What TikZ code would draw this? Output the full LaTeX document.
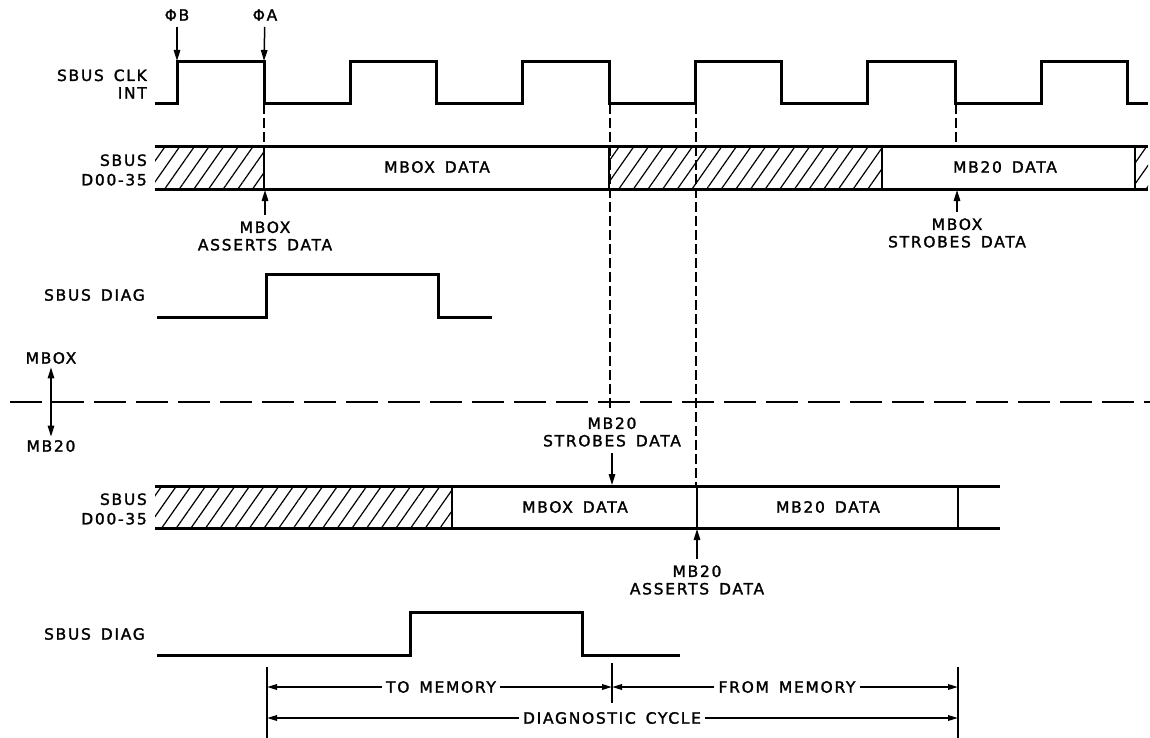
\documentclass[tikz,border=0pt]{standalone}
\usepackage{fontspec}
\newfontfamily\leroy{DejaVu Sans}[LetterSpace=11, WordSpace=1.5, FakeBold=1.6]
\usepackage{tikz}
\usetikzlibrary{positioning,arrows.meta,patterns.meta}

\begin{document}
\begin{tikzpicture}[
  x=1pt, y=-1pt,
  font=\leroy\fontsize{15.5}{17.5}\selectfont,
  wave/.style={line width=3pt},
  bus_edge/.style={line width=3pt},
  bus_cut/.style={line width=1.4pt},
  hatch/.style={pattern={Lines[angle=55,distance=12pt,line width=1.2pt]}},
  guide/.style={line width=1.4pt, dash pattern=on 10pt off 4pt},
  split/.style={line width=2.4pt, dash pattern=on 32pt off 10pt},
  ptr/.style={-{Triangle[length=11pt,width=6.5pt]}, line width=1.5pt, shorten <=6pt},
  dbl_ptr/.style={{Triangle[length=11pt,width=6.5pt]}-{Triangle[length=11pt,width=6.5pt]}, line width=1.5pt},
  dim/.style={-{Triangle[length=10pt,width=5.5pt]}, line width=1.8pt},
  note/.style={align=center, inner sep=0pt},
  sig_name/.style={anchor=east, align=right, inner sep=0pt}
]
\useasboundingbox (0,0) rectangle (1150,738);

% --- SBUS CLK INT, with phase markers ---
\node[sig_name] (clk_lbl) at (147,84) {SBUS CLK\\INT};
\draw[wave] (155,104) -| (177,62) -| (264,104) -| (350,62) -| (436,104) -| (522,62)
  -| (609,104) -| (695,62) -| (781,104) -| (867,62) -| (955,104) -| (1041,62)
  -| (1127,104) -- (1148,104);
\node[note] (phiB) at (177,15) {ΦB};
\node[note] (phiA) at (265,15) {ΦA};
\coordinate (edgeB) at (177,61);
\coordinate (edgeA) at (264,61);
\draw[ptr] (phiB) -- (edgeB);
\draw[ptr] (phiA) -- (edgeA);

% --- timing guides (dashed) ---
\coordinate (gA_top) at (264,104);  \coordinate (gA_bot) at (264,147);
\coordinate (gS_top) at (610,104);  \coordinate (gS_bot) at (610,408);
\coordinate (gR_top) at (696,104);  \coordinate (gR_bot) at (696,486);
\coordinate (gT_top) at (956,104);  \coordinate (gT_bot) at (956,147);
\draw[guide] (gA_top) -- (gA_bot);
\draw[guide] (gS_top) -- (gS_bot);
\draw[guide] (gR_top) -- (gR_bot);
\draw[guide] (gT_top) -- (gT_bot);

% --- SBUS D00-35 (MBOX side) ---
\node[sig_name] (bus1_lbl) at (147,170) {SBUS\\[2pt]D00-35};
\fill[hatch] (155,147) rectangle (264,189);
\fill[hatch] (609,147) rectangle (882,189);
\fill[hatch] (1135,147) rectangle (1148,189);
\draw[bus_edge] (155,147) -- (1148,147) (155,189) -- (1148,189);
\foreach \x in {264,609,882,1135}
  \draw[bus_cut] (\x,147) -- (\x,189);
\node (bus1_mbox) at (437,167) {MBOX DATA};
\node (bus1_mb20) at (1005,167) {MB20 DATA};

\node[note] (mbox_asrt) at (265,236) {MBOX\\ASSERTS DATA};
\coordinate (bus1_atA) at (265,190);
\draw[ptr] (mbox_asrt) -- (bus1_atA);
\node[note] (mbox_strb) at (957,233) {MBOX\\STROBES DATA};
\coordinate (bus1_atS) at (957,190);
\draw[ptr] (mbox_strb) -- (bus1_atS);

% --- SBUS DIAG (MBOX side) ---
\node[sig_name] (diag1_lbl) at (145,295) {SBUS DIAG};
\draw[wave] (157,317) -| (266,274) -| (438,317) -- (492,317);

% --- MBOX / MB20 split ---
\draw[split] (10,402) -- (1150,402);
\node (side_mbox) at (51,358) {MBOX};
\node (side_mb20) at (51,446) {MB20};
\draw[dbl_ptr] (side_mbox) -- (side_mb20);

% --- SBUS D00-35 (MB20 side) ---
\node[note] (mb20_strb) at (612,432) {MB20\\STROBES DATA};
\coordinate (bus2_atS) at (612,485);
\draw[ptr] (mb20_strb) -- (bus2_atS);

\node[sig_name] (bus2_lbl) at (147,509) {SBUS\\[2pt]D00-35};
\fill[hatch] (155,486) rectangle (452,528);
\draw[bus_edge] (155,486) -- (1000,486) (155,528) -- (1000,528);
\foreach \x in {452,697,958}
  \draw[bus_cut] (\x,486) -- (\x,528);
\node (bus2_mbox) at (575,507) {MBOX DATA};
\node (bus2_mb20) at (828,507) {MB20 DATA};

\node[note] (mb20_asrt) at (697,580) {MB20\\ASSERTS DATA};
\coordinate (bus2_atA) at (697,529);
\draw[ptr] (mb20_asrt) -- (bus2_atA);

% --- SBUS DIAG (MB20 side) ---
\node[sig_name] (diag2_lbl) at (145,634) {SBUS DIAG};
\draw[wave] (157,655) -| (410,612) -| (582,655) -- (680,655);

% --- cycle spans ---
\coordinate (tickL_top) at (267,667);  \coordinate (tickL_bot) at (267,738);
\coordinate (tickM_top) at (612,663);  \coordinate (tickM_bot) at (612,703);
\coordinate (tickR_top) at (958,667);  \coordinate (tickR_bot) at (958,738);
\draw[bus_cut] (tickL_top) -- (tickL_bot);
\draw[bus_cut] (tickM_top) -- (tickM_bot);
\draw[bus_cut] (tickR_top) -- (tickR_bot);

\node[inner sep=4pt] (to_mem) at (441,687) {TO MEMORY};
\node[inner sep=4pt] (from_mem) at (787,687) {FROM MEMORY};
\node[inner sep=4pt] (diag_cyc) at (612,718) {DIAGNOSTIC CYCLE};
\coordinate (to_l) at (267,687);   \coordinate (to_r) at (612,687);
\coordinate (from_l) at (612,687); \coordinate (from_r) at (958,687);
\coordinate (cyc_l) at (267,718);  \coordinate (cyc_r) at (958,718);
\draw[dim] (to_mem) -- (to_l);
\draw[dim] (to_mem) -- (to_r);
\draw[dim] (from_mem) -- (from_l);
\draw[dim] (from_mem) -- (from_r);
\draw[dim] (diag_cyc) -- (cyc_l);
\draw[dim] (diag_cyc) -- (cyc_r);

\end{tikzpicture}
\end{document}
